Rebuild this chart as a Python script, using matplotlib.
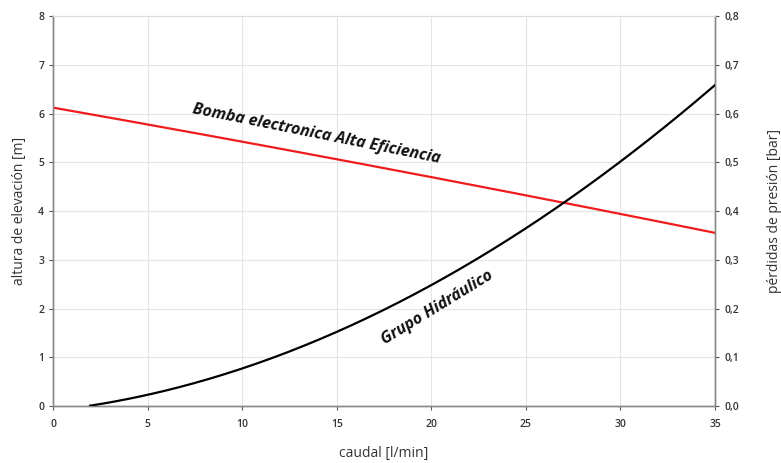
import numpy as np
import matplotlib.pyplot as plt

# caudal [l/min]
caudal_bomba = [0, 5, 10, 15, 20, 25, 30, 35]
altura_bomba = [6.10, 5.80, 5.44, 5.06, 4.67, 4.31, 3.96, 3.55]

caudal_grupo = [1.96, 5, 10, 15, 20, 25, 27, 30, 35]
perdidas_grupo = [0.0, 0.023, 0.080, 0.150, 0.245, 0.368, 0.417, 0.501, 0.658]

xticks = [0, 5, 10, 15, 20, 25, 30, 35]
yticks_left = [0, 1, 2, 3, 4, 5, 6, 7, 8]
yticks_right = [0.0, 0.1, 0.2, 0.3, 0.4, 0.5, 0.6, 0.7, 0.8]

plt.rcParams['font.family'] = ['Open Sans', 'DejaVu Sans']

fig = plt.figure(figsize=(7.81, 4.63), dpi=100)
ax = fig.add_axes([0.0679, 0.1231, 0.8476, 0.8423])
ax2 = ax.twinx()

# smooth curves through the read points
xs = np.linspace(0, 35, 200)
cb = np.polyfit(caudal_bomba, altura_bomba, 2)
ax.plot(xs, np.polyval(cb, xs), color='#ee1c1c', lw=1.6, zorder=3)

cg = np.polyfit(caudal_grupo, perdidas_grupo, 3)
xg = np.linspace(caudal_grupo[0], 35, 200)
ax2.plot(xg, np.polyval(cg, xg), color='black', lw=1.6, zorder=3)

ax.set_xlim(0, 35)
ax.set_ylim(0, 8)
ax2.set_ylim(0, 0.8)
ax.set_xticks(xticks)
ax.set_yticks(yticks_left)
ax2.set_yticks(yticks_right)
ax2.set_yticklabels([f"{v:.1f}".replace('.', ',') for v in yticks_right])

ax.grid(True, color='#e4e4e4', lw=0.8)
ax.set_axisbelow(True)

tick_kw = dict(labelsize=7.5, colors='#555555', labelcolor='#333333', length=3, width=0.8)
ax.tick_params(**tick_kw)
ax.tick_params(axis='x', pad=6)
ax2.tick_params(**tick_kw)
for a in (ax, ax2):
    for s in ('left', 'bottom', 'right'):
        a.spines[s].set_color('#888888')
        a.spines[s].set_linewidth(1.0)
    a.spines['top'].set_color('#dddddd')
for lbl in ax.get_xticklabels() + ax.get_yticklabels() + ax2.get_yticklabels():
    lbl.set_fontweight('semibold')

ax.set_xlabel('caudal [l/min]', fontsize=10, color='#333333', labelpad=12)
ax.set_ylabel('altura de elevación [m]', fontsize=10, color='#333333', labelpad=8)
ax2.set_ylabel('pérdidas de presión [bar]', fontsize=10, color='#333333', labelpad=20)

ax.text(13.9, 5.58, 'Bomba electronica Alta Eficiencia', rotation=-11.4,
        ha='center', va='center', fontsize=11.5, fontweight='bold', fontstyle='italic',
        color='#111111', rotation_mode='anchor')
ax.text(20.3, 2.01, 'Grupo Hidráulico', rotation=31.5,
        ha='center', va='center', fontsize=11.5, fontweight='bold', fontstyle='italic',
        color='#111111', rotation_mode='anchor')

fig.savefig('out.png', dpi=100)
